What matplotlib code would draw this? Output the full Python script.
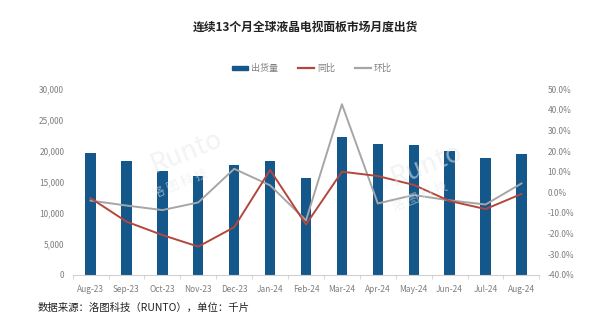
import matplotlib
matplotlib.use("Agg")
import matplotlib.pyplot as plt
from matplotlib.ticker import FuncFormatter
from matplotlib.lines import Line2D
from matplotlib.patches import Patch

plt.rcParams['font.family'] = ['Noto Sans CJK SC', 'DejaVu Sans']
plt.rcParams['axes.unicode_minus'] = False

# 月份
months = ['Aug-23', 'Sep-23', 'Oct-23', 'Nov-23', 'Dec-23', 'Jan-24', 'Feb-24',
          'Mar-24', 'Apr-24', 'May-24', 'Jun-24', 'Jul-24', 'Aug-24']
# 出货量(千片)
shipments = [19700, 18400, 16800, 16000, 17800, 18400, 15600,
             22300, 21100, 20900, 19950, 18800, 19600]
# 同比(%)
yoy = [-2.8, -14.2, -20.7, -26.3, -16.9, 10.8, -15.6,
       10.0, 7.9, 3.6, -4.2, -8.1, -0.8]
# 环比(%)
mom = [-4.0, -6.4, -8.6, -4.9, 11.4, 3.4, -13.6,
       42.7, -5.4, -1.3, -3.9, -5.9, 4.3]

bar_color = '#14578a'
yoy_color = '#b4473c'
mom_color = '#a6a6a6'
tick_color = '#7f7f7f'

fig = plt.figure(figsize=(6, 3.23), dpi=100)
ax = fig.add_axes([0.121, 0.149, 0.778, 0.575])
x = range(len(months))

ax.bar(x, shipments, width=0.29, color=bar_color, zorder=2)
ax.set_xlim(-0.5, len(months) - 0.5)
ax.set_ylim(0, 30000)
ax.set_yticks(range(0, 30001, 5000))
ax.yaxis.set_major_formatter(FuncFormatter(lambda v, p: f'{int(v):,}'))
ax.set_xticks(list(x))
ax.set_xticklabels(months)
ax.set_xticks([i - 0.5 for i in range(len(months) + 1)], minor=True)
ax.tick_params(axis='x', which='major', length=0, labelsize=6, colors=tick_color, pad=7)
ax.tick_params(axis='x', which='minor', length=3, color='#d0d0d0')
ax.tick_params(axis='y', length=0, labelsize=6, colors=tick_color, pad=6)
for s in ['top', 'right', 'left']:
    ax.spines[s].set_visible(False)
ax.spines['bottom'].set_color('#d0d0d0')

# 右轴: 同比 / 环比
ax2 = ax.twinx()
ax2.plot(x, mom, color=mom_color, lw=1.4, zorder=3)
ax2.plot(x, yoy, color=yoy_color, lw=1.4, zorder=4)
ax2.set_ylim(-40, 50)
ax2.set_yticks(range(-40, 51, 10))
ax2.yaxis.set_major_formatter(FuncFormatter(lambda v, p: f'{v:.1f}%'))
ax2.tick_params(axis='y', length=0, labelsize=6, colors=tick_color, pad=6)
for s in ['top', 'right', 'left', 'bottom']:
    ax2.spines[s].set_visible(False)

# 水印
for (wx, wy) in [(0.31, 0.53), (0.71, 0.49)]:
    fig.text(wx, wy, 'Runto', fontsize=19, style='italic', color='#e6e9ec',
             rotation=22, ha='center', va='center', zorder=5, alpha=0.55)
    fig.text(wx - 0.01, wy - 0.1, '洛 图 科 技', fontsize=9, color='#e6e9ec',
             rotation=22, ha='center', va='center', zorder=5, alpha=0.55)

fig.text(0.51, 0.915, '连续13个月全球液晶电视面板市场月度出货', ha='center', va='center',
         fontsize=8.5, fontweight='bold', color='#222222')

handles = [Patch(color=bar_color, label='出货量'),
           Line2D([], [], color=yoy_color, lw=1.6, label='同比'),
           Line2D([], [], color=mom_color, lw=1.6, label='环比')]
leg = fig.legend(handles=handles, loc='center', bbox_to_anchor=(0.52, 0.788), ncol=3,
                 frameon=False, fontsize=6.5, handlelength=1.8, handleheight=0.35,
                 columnspacing=2.2, handletextpad=0.3)
for t in leg.get_texts():
    t.set_color(tick_color)

fig.text(0.063, 0.047, '数据来源：洛图科技（RUNTO），单位：千片', ha='left', va='center',
         fontsize=7.5, color='#222222')

fig.savefig('out.png', dpi=100)
